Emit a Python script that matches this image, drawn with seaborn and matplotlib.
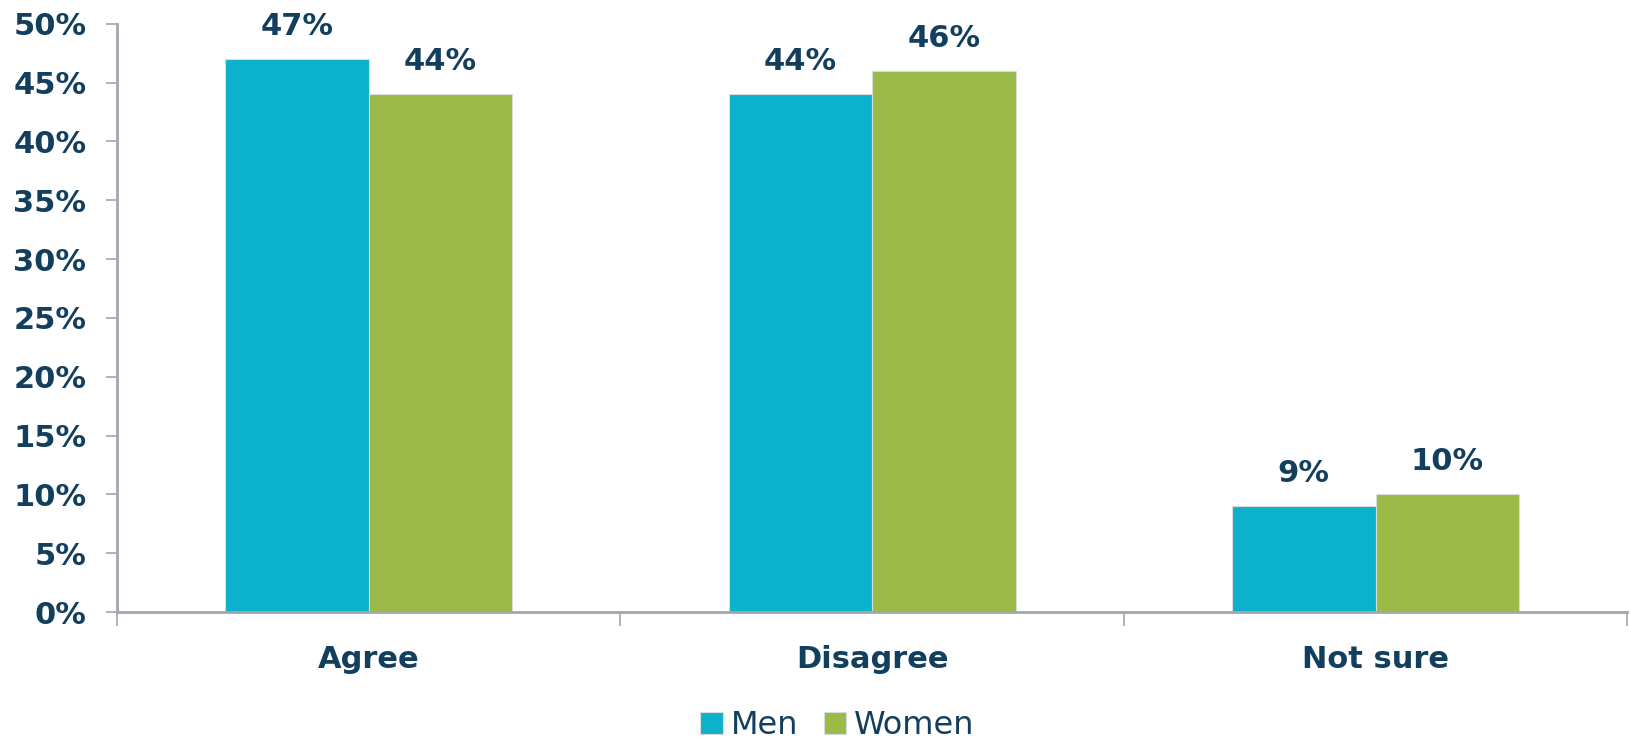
"""
Agree / Disagree / Not sure by gender - grouped bar chart
"""

import pandas as pd
import matplotlib
matplotlib.use("Agg")
import matplotlib.pyplot as plt
import seaborn as sns
from matplotlib.ticker import FixedLocator, PercentFormatter

sns.set_style("white")

CATEGORIES = ["Agree", "Disagree", "Not sure"]
MEN = [47, 44, 9]
WOMEN = [44, 46, 10]
Y_TICKS = [0, 5, 10, 15, 20, 25, 30, 35, 40, 45, 50]

COLORS = {"Men": "#0CB1CB", "Women": "#9BBA48"}
TEXT_COLOR = "#133F5F"
AXIS_COLOR = "#A3A6AE"

plt.rcParams["font.family"] = ["DejaVu Sans"]

df = pd.DataFrame({
    "category": CATEGORIES * 2,
    "gender": ["Men"] * len(MEN) + ["Women"] * len(WOMEN),
    "value": MEN + WOMEN,
})

fig = plt.figure(figsize=(16.31, 7.41), dpi=100)
ax = fig.add_axes([0.0717, 0.174, 0.926, 0.794])

sns.barplot(data=df, x="category", y="value", hue="gender",
            palette=COLORS, width=0.57, saturation=1,
            edgecolor="#D8DCDC", linewidth=0.8, ax=ax)

for container in ax.containers:
    ax.bar_label(container, fmt="%d%%", padding=13, fontsize=22,
                 fontweight="bold", color=TEXT_COLOR)

ax.set_ylim(0, 50)
ax.set_xlim(-0.5, len(CATEGORIES) - 0.5)
ax.yaxis.set_major_locator(FixedLocator(Y_TICKS))
ax.yaxis.set_major_formatter(PercentFormatter(decimals=0))

# category separator ticks on x axis
ax.xaxis.set_minor_locator(FixedLocator([i - 0.5 for i in range(len(CATEGORIES) + 1)]))
ax.tick_params(axis="x", which="major", bottom=True, length=0, pad=24)
ax.tick_params(axis="x", which="minor", bottom=True, length=10, width=1.2,
               color=AXIS_COLOR, direction="out")
ax.tick_params(axis="y", which="major", left=True, length=8, width=1.2,
               color=AXIS_COLOR, direction="out", pad=14)

for lbl in ax.get_xticklabels() + ax.get_yticklabels():
    lbl.set_fontsize(22)
    lbl.set_fontweight("bold")
    lbl.set_color(TEXT_COLOR)

for side in ["top", "right"]:
    ax.spines[side].set_visible(False)
for side in ["left", "bottom"]:
    ax.spines[side].set_color(AXIS_COLOR)
    ax.spines[side].set_linewidth(2)

ax.set_xlabel("")
ax.set_ylabel("")

ax.legend(loc="upper center", bbox_to_anchor=(0.477, -0.167), ncol=2, frameon=False,
          fontsize=23, handlelength=0.7, handleheight=0.7, handletextpad=0.25,
          columnspacing=0.8, labelcolor=TEXT_COLOR, borderaxespad=0, borderpad=0)

plt.savefig("out.png", dpi=100, facecolor="white")
